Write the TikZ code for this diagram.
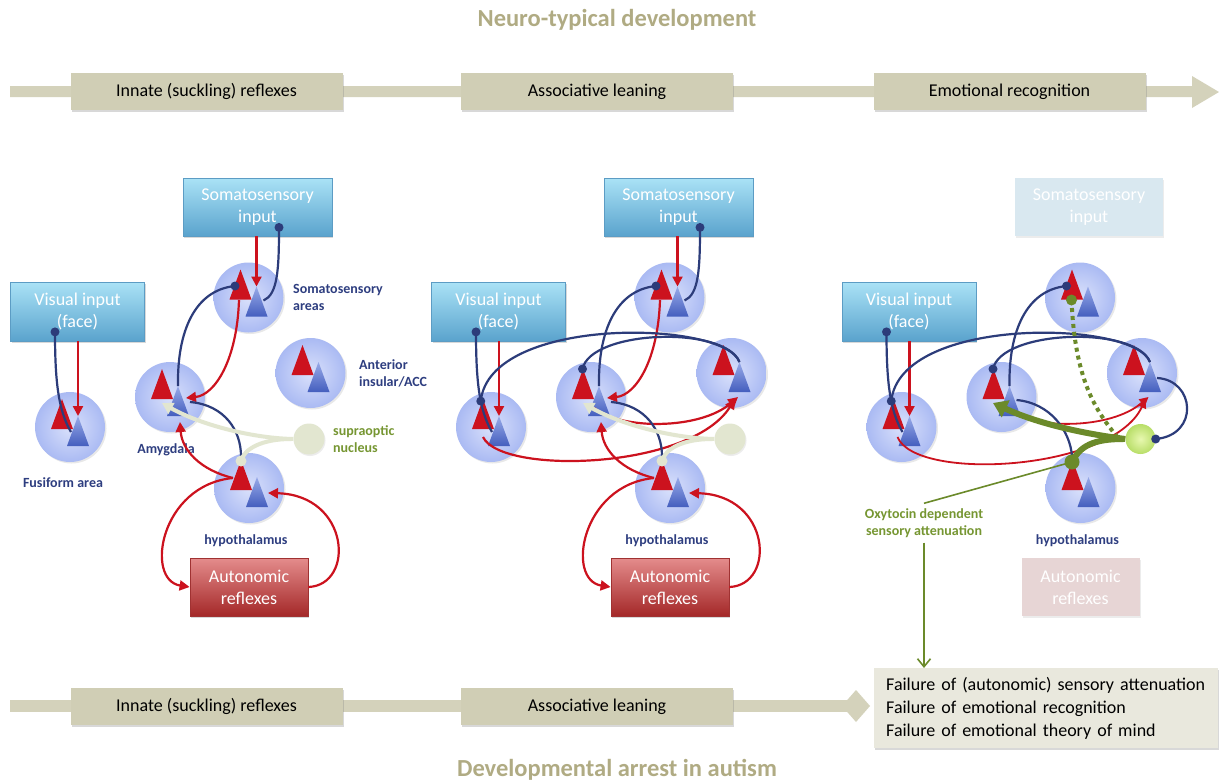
\documentclass[tikz,border=0pt]{standalone}
\usepackage{fontspec}
\setmainfont{Carlito}
\usetikzlibrary{calc,arrows.meta,shadows}
\definecolor{khaki}{RGB}{212,210,187}
\definecolor{khakibox}{RGB}{208,206,181}
\definecolor{khakitxt}{RGB}{176,171,131}
\definecolor{failfill}{RGB}{233,232,221}
\definecolor{navy}{RGB}{44,60,122}
\definecolor{rd}{RGB}{204,18,30}
\definecolor{pale}{RGB}{226,230,208}
\definecolor{olive}{RGB}{107,138,42}
\definecolor{olivetxt}{RGB}{118,150,50}
\definecolor{limein}{RGB}{232,248,176}
\definecolor{limeout}{RGB}{184,222,104}
\definecolor{cinner}{RGB}{218,225,251}
\definecolor{couter}{RGB}{170,186,243}
\definecolor{btop}{RGB}{152,170,232}
\definecolor{bbot}{RGB}{68,94,190}
\definecolor{boxtop}{RGB}{170,226,246}
\definecolor{boxbot}{RGB}{90,163,205}
\definecolor{boxedge}{RGB}{92,156,196}
\definecolor{auttop}{RGB}{228,140,140}
\definecolor{autbot}{RGB}{164,40,40}
\definecolor{autedge}{RGB}{160,50,50}
\definecolor{fadeblue}{RGB}{217,232,240}
\definecolor{fadered}{RGB}{231,213,213}
\definecolor{labnavy}{RGB}{46,62,128}

\newcommand{\neuron}[3]{%
  \node[ncirc] (#1) at (#2,#3) {};
  \coordinate (#1-rt) at ($(#1)+(-8,-28)$);
  \coordinate (#1-bt) at ($(#1)+(8,-11)$);
  \fill[rd] ($(#1)+(-19,2)$) -- (#1-rt) -- ($(#1)+(3,2)$) -- cycle;
  \shade[top color=btop, bottom color=bbot] ($(#1)+(-3,19)$) -- (#1-bt) -- ($(#1)+(19,19)$) -- cycle;
}
\newcommand{\commonpanel}[2]{%
  \node[bluebox, minimum width=134pt, minimum height=59pt] (#1visIn) at (#2+77.5,311.5) {Visual input\\(face)};
  \neuron{#1som}{#2+248.5}{297.5}
  \neuron{#1amy}{#2+170}{397}
  \neuron{#1acc}{#2+310.5}{373}
  \neuron{#1fus}{#2+70}{427}
  \neuron{#1hyp}{#2+249}{488}
  \node[nlab] (#1hypLab) at (#2+246,541) {hypothalamus};
}
\newcommand{\fusconn}[1]{%
  \coordinate (#1vd) at ($(#1visIn.south)+(-22.5,-9.5)$);
  \draw[redarr] (#1visIn.south -| #1fus-bt) -- (#1fus-bt);
  \draw[navyln] (#1vd) .. controls +(0,48) and +(-13,-22) .. ($(#1fus)+(1,5)$) coordinate[pos=0.6] (#1fd);
  \node[navydot] (#1vdn) at (#1vd) {};
}

\begin{document}
\begin{tikzpicture}[x=1pt,y=-1pt,
  navyln/.style={draw=navy, line width=2.2pt},
  redarr/.style={draw=rd, line width=2.2pt, -{Triangle[length=10pt,width=10pt]}},
  redarrthin/.style={draw=rd, line width=1.8pt, -{Triangle[length=9pt,width=9pt]}},
  paleln/.style={draw=pale, line width=4pt},
  palearr/.style={draw=pale, line width=4pt, -{Triangle[length=11pt,width=12pt]}},
  olivedash/.style={draw=olive, line width=4pt, dash pattern=on 4pt off 4pt},
  olivethick/.style={draw=olive, line width=6pt, -{Triangle[length=14pt,width=18pt]}},
  olivethickln/.style={draw=olive, line width=6pt},
  olivethin/.style={draw=olive, line width=1.6pt},
  navydot/.style={circle, fill=navy, minimum size=9pt, inner sep=0pt},
  palecirc/.style={circle, fill=pale, minimum size=11pt, inner sep=0pt},
  olivenode/.style={circle, fill=olive, minimum size=15pt, inner sep=0pt},
  ncirc/.style={circle, minimum size=70pt, inner sep=0pt, inner color=cinner, outer color=couter,
    drop shadow={opacity=0.18, shadow xshift=1.5pt, shadow yshift=-1.5pt}},
  bluebox/.style={rectangle, draw=boxedge, line width=0.8pt, top color=boxtop, bottom color=boxbot,
    text=white, align=center, font=\fontsize{18}{22}\selectfont, minimum width=149pt, minimum height=58pt,
    inner sep=2pt, drop shadow={opacity=0.3, shadow xshift=1pt, shadow yshift=-2pt}},
  fadebox/.style={rectangle, fill=fadeblue, text=white, align=center, font=\fontsize{18}{22}\selectfont,
    minimum width=148pt, minimum height=58pt, inner sep=2pt, drop shadow={opacity=0.15, shadow xshift=1pt, shadow yshift=-2pt}},
  autbox/.style={rectangle, draw=autedge, line width=0.8pt, top color=auttop, bottom color=autbot,
    text=white, align=center, font=\fontsize{18}{22}\selectfont, minimum width=118pt, minimum height=58pt,
    inner sep=2pt, drop shadow={opacity=0.3, shadow xshift=1pt, shadow yshift=-2pt}},
  fadeaut/.style={rectangle, fill=fadered, text=white, align=center, font=\fontsize{18}{22}\selectfont,
    minimum width=118pt, minimum height=58pt, inner sep=2pt, drop shadow={opacity=0.15, shadow xshift=1pt, shadow yshift=-2pt}},
  supra/.style={circle, fill=pale, minimum size=31pt, inner sep=0pt, drop shadow={opacity=0.15, shadow xshift=1pt, shadow yshift=-1.5pt}},
  limecirc/.style={circle, inner color=limein, outer color=limeout, minimum size=30pt, inner sep=0pt},
  nlab/.style={text=labnavy, font=\bfseries\fontsize{14}{17}\selectfont, align=left, inner sep=1pt},
  glab/.style={text=olivetxt, font=\bfseries\fontsize{14}{17}\selectfont, align=left, inner sep=1pt},
  ttl/.style={text=khakitxt, font=\bfseries\fontsize{24.5}{28}\selectfont},
  barbox/.style={rectangle, fill=khakibox, minimum width=272pt, minimum height=37pt, inner sep=2pt,
    font=\fontsize{18}{22}\selectfont, drop shadow={opacity=0.3, shadow xshift=1pt, shadow yshift=-2pt}},
  failbox/.style={rectangle, fill=failfill, text width=320pt, inner xsep=12pt, minimum height=80pt, align=left,
    font=\fontsize{18}{23}\selectfont, drop shadow={opacity=0.3, shadow xshift=1pt, shadow yshift=-2pt}}
]
\useasboundingbox (0,0) rectangle (1219,782);
\fill[white] (0,0) rectangle (1219,782);

% titles and bars
\node[ttl] (ttop) at (617,20) {Neuro-typical development};
\node[ttl] (tbot) at (617,770) {Developmental arrest in autism};
\fill[khaki] (10,86) -- (1192,86) -- (1192,76) -- (1219,92) -- (1192,108) -- (1192,97) -- (10,97) -- cycle;
\fill[khaki] (10,700) rectangle (850,712);
\fill[khaki] (842,706) -- (856,690) -- (870,706) -- (856,722) -- cycle;
\node[barbox] (top1) at (206.5,91.5) {Innate (suckling) reflexes};
\node[barbox] (top2) at (597,91.5) {Associative leaning};
\node[barbox] (top3) at (1009.5,91.5) {Emotional recognition};
\node[barbox] (bot1) at (206.5,706.5) {Innate (suckling) reflexes};
\node[barbox] (bot2) at (597,706.5) {Associative leaning};
\node[failbox, anchor=north west] (fail) at (874,668) {Failure of (autonomic) sensory attenuation\\Failure of emotional recognition\\Failure of emotional theory of mind};

% ===== left panel =====
\node[bluebox] (LsomIn) at (257.5,207) {Somatosensory\\input};
\commonpanel{L}{0}
\node[supra] (Lsup) at (309,439) {};
\node[autbox] (Laut) at (249,587) {Autonomic\\reflexes};
\node[nlab, anchor=west] (LsomLab) at (292,297) {Somatosensory\\areas};
\node[nlab, anchor=west] (LaccLab) at (358,373) {Anterior\\insular/ACC};
\node[glab, anchor=west] (LsupLab) at (332,439) {supraoptic\\nucleus};
\node[nlab] (LamyLab) at (166,450) {Amygdala};
\node[nlab] (LfusLab) at (63,483) {Fusiform area};

\coordinate (Lsd0) at ($(LsomIn.south)+(21.5,-9)$);
\coordinate (Lsd) at ($(Lsom)+(-13.5,-11.5)$);
\draw[redarr] (LsomIn.south -| Lsom-bt) -- (Lsom-bt);
\draw[navyln] (Lsd0) .. controls +(0,43) and +(14,-6) .. ($(Lsom)+(15,3)$);
\draw[navyln] (Lamy-bt) .. controls +(-1,-55) and +(-40,4) .. (Lsd);
\draw[redarr] ($(Lsom)+(-9.5,2.5)$) .. controls +(-2,60) and +(29,-3) .. ($(Lamy)+(16,1)$);
\fusconn{L}
\coordinate (Lhr) at ($(Lhyp)+(-16,-10)$);
\coordinate (Lhc0) at ($(Lhyp)+(-8,-27)$);
\draw[navyln] ($(Lamy)+(20,5)$) .. controls +(35,3) and +(0,-25) .. ($(Lhc0)+(0,-5)$);
\draw[redarr] (Lhr) .. controls +(-33,-8) and +(2,28) .. ($(Lamy)+(10,25)$);
\draw[redarr] (Lhr) .. controls +(-73,7) and +(-45,-7) .. (Laut.west);
\draw[redarr] (Laut.east) .. controls +(47,-2) and +(82,2) .. ($(Lhyp)+(19,5)$);
\draw[paleln] (Lhc0) .. controls +(3,-12) and +(-30,0) .. ($(Lsup.west)+(-2,0)$);
\draw[palearr] (Lsup.west) .. controls +(-45,-1) and +(35,20) .. ($(Lamy)+(-8,6)$);
\node[palecirc] (Lhc) at (Lhc0) {};
\node[navydot] (Lsd0n) at (Lsd0) {};
\node[navydot] (Lsdn) at (Lsd) {};

% ===== middle panel =====
\node[bluebox] (MsomIn) at (678.5,207) {Somatosensory\\input};
\commonpanel{M}{421}
\node[supra] (Msup) at (730,439) {};
\node[autbox] (Maut) at (670,587) {Autonomic\\reflexes};

\coordinate (Msd0) at ($(MsomIn.south)+(21.5,-9)$);
\coordinate (Msd) at ($(Msom)+(-13.5,-11.5)$);
\coordinate (Mad) at ($(Mamy)+(-8.5,-28)$);
\draw[redarr] (MsomIn.south -| Msom-bt) -- (Msom-bt);
\draw[navyln] (Msd0) .. controls +(0,43) and +(14,-6) .. ($(Msom)+(15,3)$);
\draw[navyln] (Mamy-bt) .. controls +(-1,-55) and +(-40,4) .. (Msd);
\draw[redarr] ($(Msom)+(-9.5,2.5)$) .. controls +(-2,60) and +(29,-3) .. ($(Mamy)+(16,1)$);
\fusconn{M}
\draw[navyln] (Mfd) .. controls +(9,-86) and +(-15,-42) .. (Macc-bt);
\draw[navyln] (Mad) .. controls +(8,-39) and +(-15,-37) .. (Macc-bt);
\draw[redarr] ($(Mamy)+(3,11)$) .. controls +(27,22) and +(-38,33) .. ($(Macc)+(6.5,24)$);
\draw[redarr] ($(Mfus)+(-8,10)$) .. controls +(18,38) and +(-45,71) .. ($(Macc)+(3.5,26)$);
\coordinate (Mhr) at ($(Mhyp)+(-16,-10)$);
\coordinate (Mhc0) at ($(Mhyp)+(-8,-27)$);
\draw[navyln] ($(Mamy)+(20,5)$) .. controls +(35,3) and +(0,-25) .. ($(Mhc0)+(0,-5)$);
\draw[redarr] (Mhr) .. controls +(-33,-8) and +(2,28) .. ($(Mamy)+(10,25)$);
\draw[redarr] (Mhr) .. controls +(-73,7) and +(-45,-7) .. (Maut.west);
\draw[redarr] (Maut.east) .. controls +(47,-2) and +(82,2) .. ($(Mhyp)+(19,5)$);
\draw[paleln] (Mhc0) .. controls +(3,-12) and +(-30,0) .. ($(Msup.west)+(-2,0)$);
\draw[palearr] (Msup.west) .. controls +(-45,-1) and +(35,20) .. ($(Mamy)+(-8,6)$);
\node[palecirc] (Mhc) at (Mhc0) {};
\node[navydot] (Msd0n) at (Msd0) {};
\node[navydot] (Msdn) at (Msd) {};
\node[navydot] (Madn) at (Mad) {};
\node[navydot] (Mfdn) at (Mfd) {};

% ===== right panel =====
\node[fadebox] (RsomIn) at (1089,207) {Somatosensory\\input};
\commonpanel{R}{831.5}
\node[limecirc] (Rsup) at (1140.5,439) {};
\node[fadeaut] (Raut) at (1080.5,587) {Autonomic\\reflexes};
\node[glab, align=center, inner sep=5pt] (oxy) at (924,523) {Oxytocin dependent\\sensory attenuation};

\coordinate (Rsd) at ($(Rsom)+(-13.5,-11.5)$);
\coordinate (Rad) at ($(Ramy)+(-8.5,-28)$);
\coordinate (Rodc) at ($(Rhyp)+(-8.5,-26)$);
\coordinate (Rgd) at ($(Rsom)+(-8.5,2.5)$);
\fusconn{R}
\draw[navyln] (Ramy-bt) .. controls +(-1,-55) and +(-40,4) .. (Rsd);
\draw[navyln] (Rfd) .. controls +(9,-86) and +(-15,-42) .. (Racc-bt);
\draw[navyln] (Rad) .. controls +(8,-39) and +(-15,-37) .. (Racc-bt);
\draw[redarrthin] ($(Ramy)+(3,11)$) .. controls +(27,22) and +(-38,33) .. ($(Racc)+(6.5,24)$);
\draw[redarrthin] ($(Rfus)+(-4,10)$) .. controls +(18,45) and +(-33,72) .. ($(Racc)+(3.5,26)$);
\draw[navyln] ($(Racc)+(15,5)$) .. controls +(38,2) and +(44,-4) .. (Rsup.east);
\draw[navyln] ($(Ramy)+(15,3)$) .. controls +(34,3) and +(-2,-25) .. ($(Rodc)+(0,-6)$);
\draw[olivedash] (Rgd) .. controls +(3.5,80) and +(-22,-27) .. ($(Rsup.west)+(-8,-2)$);
\draw[olivethick] (Rsup.west) .. controls +(-55,-7) and +(37,17) .. ($(Ramy)+(-8.5,6)$);
\draw[olivethickln] (Rodc) .. controls +(8,-16) and +(-30,0) .. ($(Rsup.west)+(-2,0)$);
\draw[olivethin] (Rodc) -- (oxy.north);
\draw[olivethin, -{Straight Barb[length=8pt,width=13pt]}] (oxy.south) -- (oxy.south |- fail.north);
\node[olivenode] (Rod) at (Rodc) {};
\node[olivenode, minimum size=11pt] (Rgdn) at (Rgd) {};
\node[navydot] (Rsdn) at (Rsd) {};
\node[navydot] (Radn) at (Rad) {};
\node[navydot] (Rfdn) at (Rfd) {};
\node[navydot] (Rsen) at (Rsup.east) {};
\end{tikzpicture}
\end{document}
